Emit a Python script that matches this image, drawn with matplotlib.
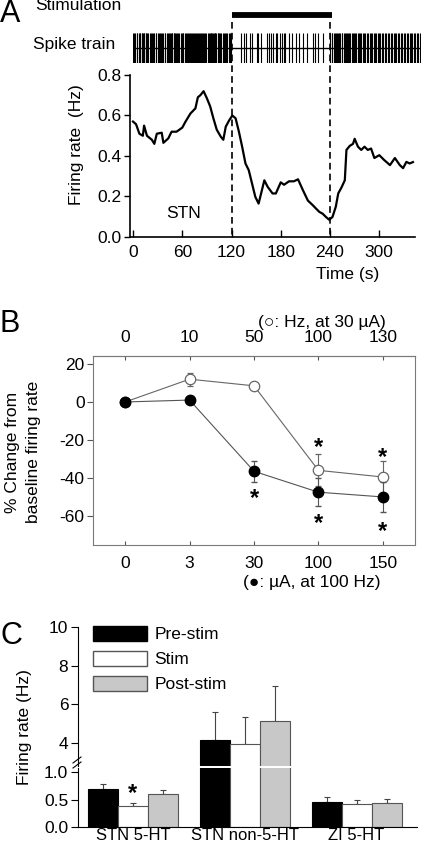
import numpy as np
import matplotlib
matplotlib.use('Agg')
import matplotlib.pyplot as plt
from matplotlib.transforms import blended_transform_factory
from matplotlib.lines import Line2D
from matplotlib.patches import Patch

plt.rcParams['font.family'] = ['Liberation Sans', 'DejaVu Sans']
plt.rcParams['axes.unicode_minus'] = False
plt.rcParams['font.size'] = 12

# ---------------- data ----------------
# Panel A: firing-rate trace
t_rate = [0, 3.7, 7.8, 12, 13.5, 17, 23, 26, 29, 35, 37, 43, 47, 53, 60, 64, 70, 76, 79, 82,
          86, 90, 94, 98, 102, 107, 110, 113, 117, 121, 125, 129, 133, 137, 141, 145, 149, 153,
          160, 164, 170, 174, 180, 184, 190, 196, 201, 207, 213, 219, 223, 227, 231, 235, 239,
          243, 247, 250, 254, 258, 260, 264, 268, 270, 274, 278, 282, 286, 290, 294, 300, 306,
          313, 319, 325, 329, 333, 337, 341]
rate = [0.57, 0.557, 0.51, 0.50, 0.55, 0.50, 0.48, 0.46, 0.51, 0.515, 0.465, 0.487, 0.52, 0.52,
        0.54, 0.57, 0.61, 0.635, 0.69, 0.70, 0.72, 0.685, 0.645, 0.585, 0.53, 0.495, 0.48,
        0.545, 0.575, 0.60, 0.586, 0.52, 0.445, 0.363, 0.33, 0.264, 0.198, 0.165, 0.28, 0.248,
        0.215, 0.215, 0.27, 0.258, 0.275, 0.275, 0.285, 0.231, 0.18, 0.157, 0.14, 0.124, 0.115,
        0.099, 0.085, 0.099, 0.149, 0.215, 0.245, 0.28, 0.43, 0.45, 0.46, 0.485, 0.446, 0.43,
        0.446, 0.43, 0.437, 0.39, 0.404, 0.38, 0.355, 0.39, 0.355, 0.34, 0.371, 0.363, 0.37]
time_ticks = [0, 60, 120, 180, 240, 300]
rate_ticks = [0.0, 0.2, 0.4, 0.6, 0.8]
stim_on, stim_off, stim_bar_end = 120, 240, 242

# Panel A: spike train (s)
spikes_pre = [0.5, 1.8, 3.0, 4.6, 5.2, 7.1, 8.4, 9.0, 10.7, 11.5, 12.3, 13.1, 14.0, 15.8, 16.4,
              17.5, 18.2, 20.4, 21.9, 23.0, 24.1, 25.6, 27.8, 28.5, 30.2, 31.7, 33.0, 34.4,
              35.1, 36.9, 38.6, 39.3, 41.0, 42.8, 44.1, 45.5, 46.2, 47.1, 48.0, 49.7, 50.4,
              51.2, 52.3, 53.6, 55.0, 56.1, 57.9, 59.2, 60.8, 61.5, 63.0, 64.7, 65.3, 66.9,
              68.2, 69.0, 70.6, 72.1, 73.4, 74.0, 75.8, 77.2, 78.0, 79.5, 80.3, 81.6, 83.0,
              84.2, 85.7, 86.5, 88.1, 89.4, 90.9, 92.5, 93.3, 94.6, 95.0, 96.8, 97.4, 98.1,
              99.6, 100.3, 101.4, 103.0, 103.8, 104.7, 106.2, 107.5, 109.3, 110.8, 112.0,
              113.6, 115.1, 116.4, 117.9, 119.2]
spikes_stim = [132, 135, 138, 142, 145, 150.6, 152, 155.5, 163.7, 165.7, 168.6, 170.6, 174,
               176, 178.8, 181.2, 184, 185.3, 190, 194, 199, 201.6, 207, 211.4, 219.6, 222,
               225, 231]
spikes_post = [240.5, 241.8, 243.0, 244.6, 245.9, 247.3, 248.1, 249.8, 251.0, 252.7, 254.2,
               255.0, 256.6, 258.3, 259.4, 260.8, 262.0, 263.5, 264.9, 266.2, 267.8, 269.1,
               270.5, 272.0, 273.6, 275.2, 276.7, 278.0, 279.9, 281.3, 283.0, 284.6, 286.4,
               288.1, 289.5, 291.3, 293.0, 294.8, 296.2, 298.0, 299.9, 301.4, 303.3, 305.0,
               306.8, 308.5, 310.1, 312.0, 313.9, 315.5, 317.4, 319.0, 320.8, 322.5, 324.3,
               326.1, 327.8, 329.6, 331.5, 333.2, 335.0, 336.9, 338.6, 340.4, 342.1, 344.0,
               345.8, 347.5, 349.3, 351.0]

# Panel B
b_bottom_labels = ['0', '3', '30', '100', '150']     # uA, at 100 Hz (filled)
b_top_labels = ['0', '10', '50', '100', '130']       # Hz, at 30 uA (open)
filled_vals = [0, 1, -36.5, -47.5, -50]
filled_err = [0, 0, 5.5, 7.5, 8]
open_vals = [0, 12, 8.5, -36, -39.5]
open_err = [0, 3.5, 1.5, 8.5, 8.5]
stars_filled_y = {2: -51, 3: -64, 4: -68}
stars_open_y = {3: -24, 4: -29}

# Panel C
groups = ['STN 5-HT', 'STN non-5-HT', 'ZI 5-HT']
pre_vals = [0.69, 4.15, 0.46]
pre_err = [0.09, 1.47, 0.08]
stim_vals = [0.38, 3.95, 0.41]
stim_err = [0.05, 1.41, 0.09]
post_vals = [0.60, 5.15, 0.43]
post_err = [0.07, 1.80, 0.08]
c_star = (0, 0.60)  # group index, y

# ---------------- figure ----------------
W, H = 421, 844
fig = plt.figure(figsize=(W / 100, H / 100), dpi=100)


def add_ax(l, t, r, b):
    return fig.add_axes([l / W, 1 - b / H, (r - l) / W, (b - t) / H])


def fx(x):
    return x / W


def fy(y):
    return 1 - y / H


FS = 12.5

# ---------- Panel A ----------
axA = add_ax(130, 75, 415, 237)
axA.plot(t_rate, rate, color='black', lw=1.6)
axA.set_xlim(-3.65, 343.5)
axA.set_ylim(0, 0.8)
axA.set_xticks(time_ticks)
axA.set_yticks(rate_ticks)
axA.set_yticklabels(['%.1f' % v for v in rate_ticks])
for s in ['top', 'right']:
    axA.spines[s].set_visible(False)
for s in ['left', 'bottom']:
    axA.spines[s].set_linewidth(1.2)
axA.tick_params(axis='x', direction='in', length=5, width=1, labelsize=FS, pad=6)
axA.tick_params(axis='y', direction='out', length=4, width=1, labelsize=FS, pad=2)

axS = add_ax(133, 33, 421, 63)
pxs = (415 - 130) / (343.5 + 3.65)
axS.set_xlim(0, (421 - 133) / pxs)
axS.set_ylim(0, 1)
axS.vlines(spikes_pre + spikes_stim + spikes_post, 0, 1, color='black', lw=0.8)
axS.axhline(0.5, color='black', lw=1)
axS.axis('off')

trA = blended_transform_factory(axA.transData, fig.transFigure)
for t in (stim_on, stim_off):
    fig.add_artist(Line2D([t, t], [fy(22), fy(237)], transform=trA, color='black',
                          lw=1.2, ls=(0, (4, 2.5))))
fig.add_artist(Line2D([stim_on, stim_bar_end], [fy(14.5), fy(14.5)], transform=trA,
                      color='black', lw=4.2, solid_capstyle='butt'))

fig.text(fx(0), fy(14), 'A', fontsize=22, ha='left', va='center')
fig.text(fx(35), fy(6), 'Stimulation', fontsize=FS, ha='left', va='center')
fig.text(fx(33), fy(45), 'Spike train', fontsize=FS, ha='left', va='center')
fig.text(fx(76), fy(145), 'Firing rate  (Hz)', fontsize=FS, rotation=90, ha='center', va='center')
fig.text(fx(348), fy(275), 'Time (s)', fontsize=FS, ha='center', va='center')
fig.text(fx(184), fy(213), 'STN', fontsize=FS, ha='center', va='center')

# ---------- Panel B ----------
axB = add_ax(93, 356, 415, 545)
xb = np.arange(len(b_bottom_labels))
axB.errorbar(xb, open_vals, yerr=open_err, fmt='-o', color='#666666', mfc='white',
             mec='#666666', ms=7.5, mew=0.9, lw=0.8, elinewidth=0.8, capsize=2.5, zorder=3)
axB.errorbar(xb, filled_vals, yerr=filled_err, fmt='-o', color='#555555', mfc='black',
             mec='black', ms=7.5, lw=0.8, elinewidth=0.8, capsize=2.5, zorder=4)
for k, v in stars_filled_y.items():
    axB.text(k, v, '*', fontsize=17, fontweight='bold', ha='center', va='center')
for k, v in stars_open_y.items():
    axB.text(k, v, '*', fontsize=17, fontweight='bold', ha='center', va='center')
axB.set_xlim(-0.5, 4.5)
axB.set_ylim(-75.3, 24.2)
axB.set_yticks([20, 0, -20, -40, -60])
axB.set_xticks(xb)
axB.set_xticklabels(b_bottom_labels)
for s in axB.spines.values():
    s.set_color('#7a7a7a')
axB.tick_params(axis='y', direction='out', length=4, labelsize=FS, pad=2, color='#555555')
axB.tick_params(axis='x', direction='in', length=3, labelsize=FS, pad=8, color='#555555')
secB = axB.secondary_xaxis('top')
secB.set_xticks(xb)
secB.set_xticklabels(b_top_labels)
secB.tick_params(direction='in', length=3, labelsize=FS, pad=8, color='#555555')
secB.spines['top'].set_color('#7a7a7a')

fig.text(fx(0), fy(324), 'B', fontsize=22, ha='left', va='center')
fig.text(fx(322), fy(323), '(○: Hz, at 30 µA)', fontsize=FS, ha='center', va='center')
fig.text(fx(312), fy(583), '(●: µA, at 100 Hz)', fontsize=FS, ha='center', va='center')
fig.text(fx(23), fy(452), '% Change from\nbaseline firing rate', fontsize=FS, rotation=90,
         ha='center', va='center', linespacing=1.45)

# ---------- Panel C ----------
axCl = add_ax(78, 768, 417, 827)
axCu = add_ax(78, 627, 417, 766)
xc = np.arange(len(groups))
w = 0.268
series = [(pre_vals, pre_err, 'black', 'black'),
          (stim_vals, stim_err, 'white', '#555555'),
          (post_vals, post_err, '#c8c8c8', '#555555')]
for i, (vals, errs, fc, ec) in enumerate(series):
    xs = xc + (i - 1) * w
    for ax in (axCl, axCu):
        ax.bar(xs, vals, width=w, color=fc, edgecolor=ec, lw=0.8, zorder=2)
        ax.errorbar(xs, vals, yerr=[np.zeros(len(vals)), errs], fmt='none',
                    ecolor='#444444', elinewidth=0.8, capsize=2.5, capthick=0.8, zorder=1)
for ax in (axCl, axCu):
    ax.set_xlim(-0.49, 2.54)
    for s in ['top', 'right']:
        ax.spines[s].set_visible(False)
    ax.tick_params(axis='y', direction='out', length=5, labelsize=FS, pad=2)
axCl.set_ylim(0, 1.073)
axCu.set_ylim(2.81, 10)
axCu.spines['bottom'].set_visible(False)
axCu.set_xticks([])
axCl.set_yticks([0, 0.5, 1.0])
axCl.set_yticklabels(['0.0', '0.5', '1.0'])
axCu.set_yticks([4, 6, 8, 10])
axCl.set_xticks(xc)
axCl.set_xticklabels(groups)
axCl.tick_params(axis='x', length=0, labelsize=12, pad=1)
axCl.text(c_star[0], c_star[1], '*', fontsize=17, fontweight='bold', ha='center', va='center')

# break marks on the y axis
for dy in (0.0, 5.0):
    fig.add_artist(Line2D([fx(73), fx(81)], [fy(768 - dy), fy(762 - dy)],
                          color='black', lw=0.8))

handles = [Patch(fc='black', ec='black'), Patch(fc='white', ec='#555555'),
           Patch(fc='#c8c8c8', ec='#555555')]
axCu.legend(handles, ['Pre-stim', 'Stim', 'Post-stim'], loc='upper left',
            bbox_to_anchor=(fx(93), fy(626)), bbox_transform=fig.transFigure,
            frameon=False, borderpad=0, borderaxespad=0, handlelength=3.1,
            handleheight=0.95, handletextpad=0.45, labelspacing=0.48, fontsize=FS)

fig.text(fx(0), fy(636), 'C', fontsize=22, ha='left', va='center')
fig.text(fx(25), fy(727), 'Firing rate (Hz)', fontsize=FS, rotation=90, ha='center', va='center')

fig.savefig('out.png', dpi=100)
